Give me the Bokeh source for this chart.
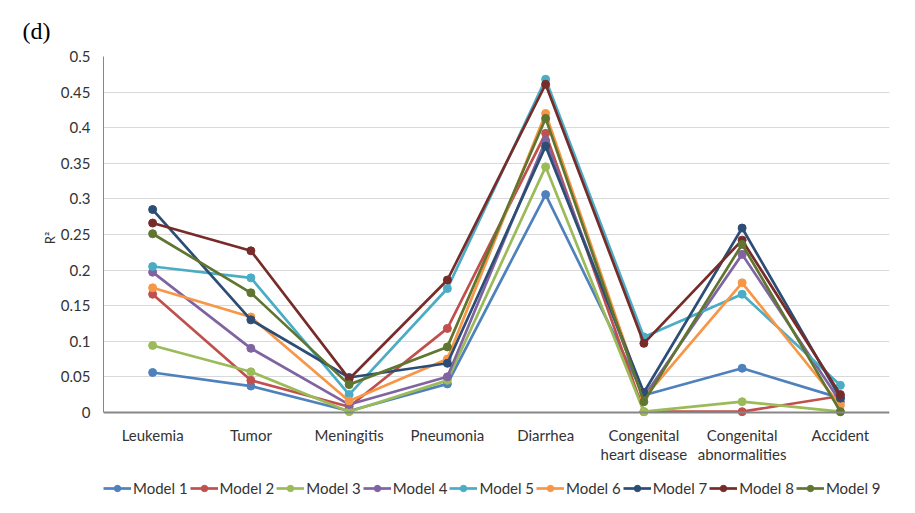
from bokeh.plotting import figure
from bokeh.models import (Range1d, FixedTicker, Span, Legend, LegendItem, Title,
                          LinearAxis, PrintfTickFormatter)
from bokeh.layouts import column
from bokeh.embed import file_html
from bokeh.resources import INLINE

categories = ["Leukemia", "Tumor", "Meningitis", "Pneumonia", "Diarrhea",
              "Congenital heart disease", "Congenital abnormalities", "Accident"]
label_line1 = ["Leukemia", "Tumor", "Meningitis", "Pneumonia", "Diarrhea",
               "Congenital", "Congenital", "Accident"]
label_line2 = ["", "", "", "", "", "heart disease", "abnormalities", ""]

model_names = ["Model 1", "Model 2", "Model 3", "Model 4", "Model 5",
               "Model 6", "Model 7", "Model 8", "Model 9"]
model1 = [0.056, 0.037, 0.002, 0.040, 0.306, 0.024, 0.062, 0.020]
model2 = [0.166, 0.045, 0.008, 0.118, 0.392, 0.001, 0.001, 0.023]
model3 = [0.094, 0.057, 0.001, 0.045, 0.345, 0.001, 0.015, 0.001]
model4 = [0.197, 0.090, 0.011, 0.050, 0.382, 0.022, 0.222, 0.015]
model5 = [0.205, 0.189, 0.025, 0.174, 0.468, 0.106, 0.166, 0.038]
model6 = [0.175, 0.134, 0.016, 0.075, 0.420, 0.020, 0.182, 0.010]
model7 = [0.285, 0.130, 0.049, 0.069, 0.374, 0.028, 0.259, 0.020]
model8 = [0.266, 0.227, 0.047, 0.186, 0.461, 0.097, 0.242, 0.025]
model9 = [0.251, 0.168, 0.039, 0.092, 0.413, 0.015, 0.236, 0.001]

y_ticks = [0, 0.05, 0.1, 0.15, 0.2, 0.25, 0.3, 0.35, 0.4, 0.45, 0.5]

colors = ["#4F81BD", "#C0504D", "#9BBB59", "#8064A2", "#4BACC6",
          "#F79646", "#2C4D75", "#772C2A", "#5F7530"]
series = [model1, model2, model3, model4, model5, model6, model7, model8, model9]

FONT = "Lato"
TXT = "#333333"
FS = "15px"

xpos = list(range(len(categories)))

# ---------------- main chart ----------------
p = figure(x_range=Range1d(-0.5, len(categories) - 0.5), y_range=Range1d(-0.01, 0.5),
           width=899, height=478, output_backend="svg", toolbar_location=None,
           min_border_left=103, min_border_right=10, min_border_top=56,
           min_border_bottom=59, x_axis_type=None)
p.outline_line_color = None

title = Title(text="(d)", align="left", offset=-81, text_font="Liberation Serif",
              text_font_size="24px", text_font_style="normal", text_color="black",
              standoff=25)
p.add_layout(title, "above")

for vals, c in zip(series, colors):
    p.line(xpos, vals, line_color=c, line_width=2.7)
    p.scatter(xpos, vals, fill_color=c, line_color=c, size=8)

# y axis
p.yaxis.ticker = FixedTicker(ticks=y_ticks)
p.yaxis.formatter = PrintfTickFormatter(format="%g")
p.yaxis.bounds = (0, 0.5)
p.yaxis.axis_line_color = "#868686"
p.yaxis.major_tick_line_color = None
p.yaxis.minor_tick_line_color = None
p.yaxis.major_tick_out = 0
p.yaxis.major_tick_in = 0
p.yaxis.major_label_text_font = FONT
p.yaxis.major_label_text_font_size = FS
p.yaxis.major_label_text_color = TXT
p.yaxis.major_label_standoff = 13
p.yaxis.axis_label = "R²"
p.yaxis.axis_label_text_font = FONT
p.yaxis.axis_label_text_font_size = "13px"
p.yaxis.axis_label_text_font_style = "normal"
p.yaxis.axis_label_text_color = TXT
p.yaxis.axis_label_standoff = 0

p.ygrid.ticker = FixedTicker(ticks=y_ticks)
p.ygrid.grid_line_color = "#d9d9d9"
p.xgrid.grid_line_color = None

# x axes: two stacked axes give two-line labels
for lines, standoff in ((label_line1, 6), (label_line2, -2)):
    ax = LinearAxis(ticker=FixedTicker(ticks=xpos),
                    major_label_overrides={i: l for i, l in zip(xpos, lines)},
                    axis_line_color=None, major_tick_line_color=None,
                    minor_tick_line_color=None, major_tick_out=0, major_tick_in=0,
                    major_label_text_font=FONT, major_label_text_font_size=FS,
                    major_label_text_color=TXT, major_label_standoff=standoff)
    p.add_layout(ax, "below")

p.add_layout(Span(location=0, dimension="width", line_color="#868686", line_width=2))

# ---------------- legend strip ----------------
lg = figure(x_range=Range1d(100, 101), y_range=Range1d(100, 101),
            width=899, height=19, output_backend="svg", toolbar_location=None,
            min_border=0, min_border_left=0, min_border_right=0,
            min_border_top=0, min_border_bottom=0,
            x_axis_type=None, y_axis_type=None)
lg.outline_line_color = None
lg.xgrid.grid_line_color = None
lg.ygrid.grid_line_color = None

items = []
for name, vals, c in zip(model_names, series, colors):
    ln = lg.line(xpos, vals, line_color=c, line_width=2.7)
    sc = lg.scatter(xpos, vals, fill_color=c, line_color=c, size=7)
    items.append(LegendItem(label=name, renderers=[ln, sc]))

legend = Legend(items=items, orientation="horizontal", location=(0, 0),
                label_text_font=FONT, label_text_font_size=FS,
                label_text_color=TXT, glyph_width=28, glyph_height=16,
                spacing=2, label_standoff=2, border_line_color=None,
                padding=1, margin=0, background_fill_alpha=0)
lg.add_layout(legend)

layout = column(p, lg, spacing=0)
open("out.html", "w").write(file_html(layout, INLINE))
